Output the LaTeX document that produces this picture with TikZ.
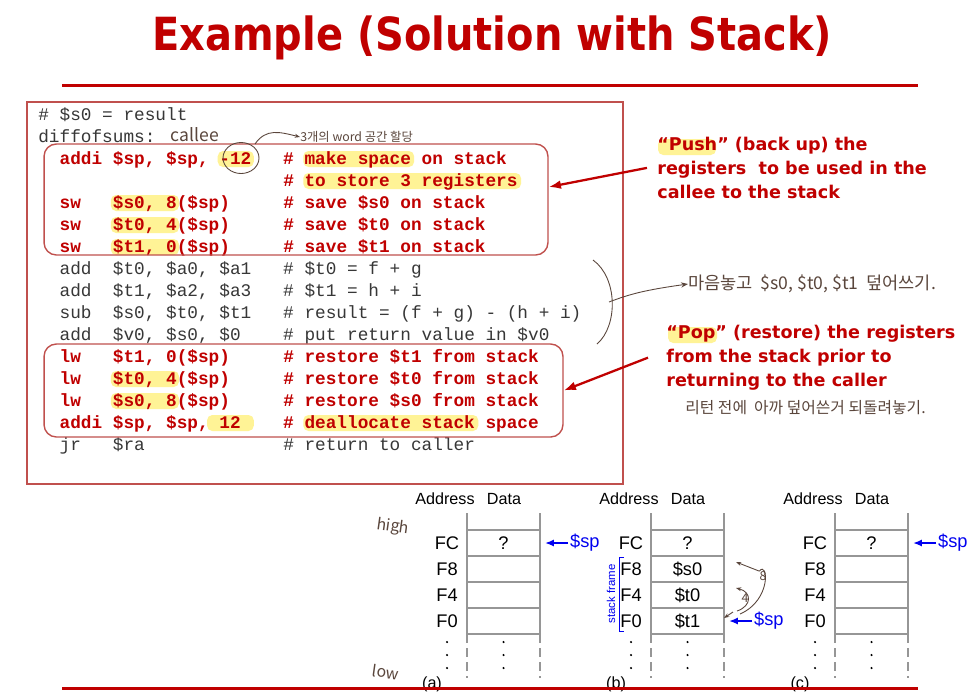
\documentclass[tikz,border=0pt]{standalone}
\usepackage{fontspec}
\usepackage{graphicx}
\setmainfont{Liberation Sans}
\setmonofont{Liberation Mono}
\newfontfamily\headfont{DejaVu Sans}
\newfontfamily\handfont{Noto Sans CJK KR}
\usetikzlibrary{arrows.meta}
\definecolor{slidered}{RGB}{192,0,0}
\definecolor{boxred}{RGB}{192,80,77}
\definecolor{codegray}{RGB}{55,55,55}
\definecolor{hilite}{RGB}{255,243,150}
\definecolor{spblue}{RGB}{0,0,240}
\definecolor{penbrown}{RGB}{90,70,60}
\definecolor{gridgray}{RGB}{150,150,150}
\tikzset{
  titletext/.style={font=\headfont\bfseries\fontsize{26}{30}\selectfont, text=slidered, anchor=base, inner sep=0pt},
  rule/.style={draw=slidered, line width=1.7pt},
  codeplain/.style={font=\ttfamily\fontsize{10.1}{12}\selectfont, text=codegray, anchor=base west, inner sep=0pt},
  codered/.style={codeplain, font=\ttfamily\bfseries\fontsize{10.1}{12}\selectfont, text=slidered},
  hl/.style={fill=hilite, rounded corners=3pt},
  regbox/.style={draw=boxred, line width=0.8pt, rounded corners=7pt, inner sep=0pt},
  callnote/.style={font=\headfont\bfseries\fontsize{10}{13.5}\selectfont, text=slidered, align=left, anchor=north west, inner sep=0pt},
  callout/.style={draw=slidered, line width=1.3pt, -{Latex[length=7pt,width=5pt]}},
  lbl/.style={font=\fontsize{9.2}{11}\selectfont, inner sep=0pt},
  cell/.style={font=\fontsize{10.4}{12}\selectfont, inner sep=0pt},
  cellline/.style={draw=gridgray, line width=0.9pt},
  sparrow/.style={draw=spblue, line width=1.1pt, -{Latex[length=5pt,width=4pt]}},
  handnote/.style={font=\handfont\fontsize{9}{10}\selectfont, text=penbrown, inner sep=0pt},
  penline/.style={draw=penbrown, line width=0.5pt},
}

\begin{document}
\begin{tikzpicture}[x=0.02cm, y=-0.02cm]
  \useasboundingbox (0,0) rectangle (970,691);
  \fill[white] (0,0) rectangle (970,691);

  % title
  \node[titletext] (title) at (492,50) {\scalebox{0.875}[1]{Example (Solution with Stack)}};
  \draw[rule] (62,85) -- (918,85);

  % code listing, 10.69 units per column, 22 per line
  \draw[boxred, line width=0.8pt] (27,102) rectangle (623,484);
  \foreach \ln/\ca/\cb in {2/17/20,2/25/35,3/25/45,4/7/13,5/7/13,6/7/13,12/7/13,13/7/13,14/16/20,14/25/41}
    \fill[hl] ({36+10.69*\ca},{107+22*\ln}) rectangle ({40+10.69*\cb},{123+22*\ln});
  \foreach \st/\txt [count=\i from 0] in {
      codeplain/{\#~\$s0~=~result},
      codeplain/{diffofsums:},
      codered/{~~addi~\$sp,~\$sp,~-12~~~\#~make~space~on~stack},
      codered/{\phantom{~~addi~\$sp,~\$sp,~-12~~~}\#~to~store~3~registers},
      codered/{~~sw~~~\$s0,~8(\$sp)~~~~~\#~save~\$s0~on~stack},
      codered/{~~sw~~~\$t0,~4(\$sp)~~~~~\#~save~\$t0~on~stack},
      codered/{~~sw~~~\$t1,~0(\$sp)~~~~~\#~save~\$t1~on~stack},
      codeplain/{~~add~~\$t0,~\$a0,~\$a1~~~\#~\$t0~=~f~+~g},
      codeplain/{~~add~~\$t1,~\$a2,~\$a3~~~\#~\$t1~=~h~+~i},
      codeplain/{~~sub~~\$s0,~\$t0,~\$t1~~~\#~result~=~(f~+~g)~-~(h~+~i)},
      codeplain/{~~add~~\$v0,~\$s0,~\$0~~~~\#~put~return~value~in~\$v0},
      codered/{~~lw~~~\$t1,~0(\$sp)~~~~~\#~restore~\$t1~from~stack},
      codered/{~~lw~~~\$t0,~4(\$sp)~~~~~\#~restore~\$t0~from~stack},
      codered/{~~lw~~~\$s0,~8(\$sp)~~~~~\#~restore~\$s0~from~stack},
      codered/{~~addi~\$sp,~\$sp,~12~~~~\#~deallocate~stack~space},
      codeplain/{~~jr~~~\$ra~~~~~~~~~~~~~\#~return~to~caller}}
    \node[\st] (l\i) at (38,{120+22*\i}) {\txt};
  \node[regbox, minimum width=10.08cm, minimum height=2.22cm] (pushbox) at (296,199.5) {};
  \node[regbox, minimum width=10.38cm, minimum height=1.86cm] (popbox) at (303.5,390.5) {};

  % push / pop notes
  \fill[hl] (658,139) rectangle (716,155);
  \fill[hl] (668,327) rectangle (717,343);
  \node[callnote] (pushnote) at (657,137) {“Push” (back up) the\\registers~ to be used in the\\callee to the stack};
  \node[callnote] (popnote) at (666,325) {“Pop” (restore) the registers\\from the stack prior to\\returning to the caller};
  \draw[callout] ([xshift=-0.2cm]pushnote.west) -- ([yshift=0.25cm]pushbox.east);
  \draw[callout] ([xshift=-0.36cm]popnote.west) -- (popbox.east);

  % stack tables (a) (b) (c)
  \foreach \t/\ax/\sprow in {a/447/1, b/631/4, c/815/1}{
    \node[lbl] (addr\t) at (\ax-2,499) {Address};
    \node[lbl] (data\t) at (\ax+57,499) {Data};
    \draw[cellline] (\ax+20,513) -- (\ax+20,634) (\ax+93,513) -- (\ax+93,634);
    \draw[cellline, dash pattern=on 5pt off 3pt] (\ax+20,634) -- (\ax+20,678) (\ax+93,634) -- (\ax+93,678);
    \foreach \y in {530,556,582,608,634}
      \draw[cellline] (\ax+20,\y) -- (\ax+93,\y);
    \foreach \a [count=\k] in {FC,F8,F4,F0}
      \node[cell] (\t\a) at (\ax,{517+26*\k}) {\a};
    \node[cell] (\t q) at (\ax+56.5,543) {?};
    \foreach \y in {642,655,668}{
      \fill (\ax,\y) circle (0.7pt);
      \fill (\ax+56.5,\y) circle (0.7pt);
    }
    \node[cell, text=spblue, anchor=west, inner sep=1pt] (sp\t) at (\ax+121,{517+26*\sprow}) {\$sp};
    \coordinate (tip\t) at (\ax+98,{517+26*\sprow});
    \draw[sparrow] (sp\t) -- (tip\t);
    \node[lbl] (cap\t) at (\ax-15,684) {(\t)};
  }
  \node[cell] (bs0) at (687.5,569) {\$s0};
  \node[cell] (bt0) at (687.5,595) {\$t0};
  \node[cell] (bt1) at (687.5,621) {\$t1};
  \draw[spblue, line width=0.5pt] (624,557) -- (619,557) -- (619,631) -- (624,631);
  \node[rotate=90, font=\fontsize{6.5}{7}\selectfont, text=spblue, inner sep=0pt] (frame) at (611,594) {stack frame};
  \draw[rule] (62,688) -- (918,688);

  % handwritten notes
  \node[handnote, font=\handfont\fontsize{10}{11}\selectfont] (callee) at (195,135) {callee};
  \draw[penline] (241,158) ellipse [x radius=0.36cm, y radius=0.31cm];
  \node[handnote, font=\handfont\fontsize{7}{8}\selectfont, anchor=west] (wordnote) at (300,137) {3개의 word 공간 할당};
  \draw[penline, -{Stealth[length=3pt]}] (255,144) .. controls (266,128) and (280,132) .. (wordnote.west);
  \draw[penline] (593,260) .. controls (618,278) and (618,326) .. (597,344);
  \node[handnote, font=\handfont\fontsize{10}{11}\selectfont, anchor=west] (freenote) at (688,284) {마음놓고 ~\$s0, \$t0, \$t1~ 덮어쓰기.};
  \draw[penline, -{Stealth[length=4pt]}] (609,302) .. controls (630,294) and (645,290) .. (freenote.west);
  \node[handnote, anchor=west] (restorenote) at (685,408) {리턴 전에 ~아까 덮어쓴거 되돌려놓기.};
  \node[handnote, rotate=-8] (high) at (393,527) {high};
  \node[handnote, rotate=-8] (low) at (386,672) {low};
  \node[handnote, font=\handfont\fontsize{7}{8}\selectfont] (eight) at (763,576) {8};
  \node[handnote, font=\handfont\fontsize{7}{8}\selectfont] (four) at (745,598) {4};
  \draw[penline, -{Stealth[length=3pt]}] (740,614) .. controls (772,600) and (768,560) .. (eight.north west) -- (736,562);
  \draw[penline, -{Stealth[length=3pt]}] (737,611) .. controls (752,606) and (752,592) .. (736,588);
  \draw[penline, -{Stealth[length=3pt]}] (733,612) -- (724,618);
\end{tikzpicture}
\end{document}
